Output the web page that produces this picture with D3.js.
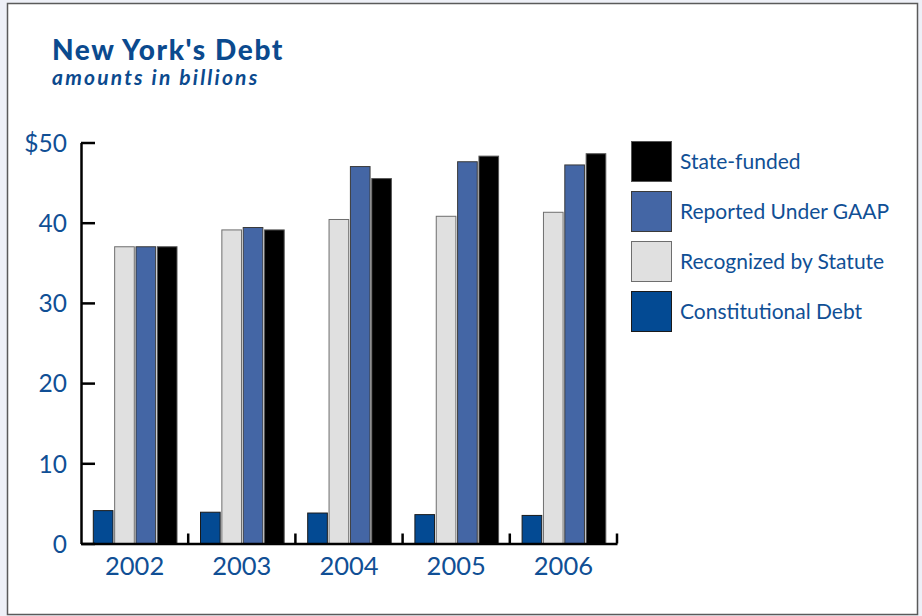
<!DOCTYPE html>
<html>
<head>
<meta charset="utf-8">
<script src="https://cdn.jsdelivr.net/npm/d3@7"></script>
<style>
  html, body { margin: 0; padding: 0; background: #eef0f7; }
  svg { display: block; font-family: Lato, "Open Sans", sans-serif; }
</style>
</head>
<body>
<svg id="chart" width="922" height="616"></svg>
<script>
// New York's debt, billions of dollars, fiscal years 2002-2006
const years = ["2002", "2003", "2004", "2005", "2006"];
const seriesNames = ["Constitutional Debt", "Recognized by Statute", "Reported Under GAAP", "State-funded"];
const constitutional = [4.1, 3.9, 3.8, 3.6, 3.5];
const statute = [37.0, 39.1, 40.4, 40.8, 41.3];
const gaap = [37.0, 39.4, 47.0, 47.6, 47.2];
const stateFunded = [37.0, 39.1, 45.5, 48.3, 48.6];
const yTicks = [0, 10, 20, 30, 40, 50];
const legendOrder = ["State-funded", "Reported Under GAAP", "Recognized by Statute", "Constitutional Debt"];

const seriesValues = [constitutional, statute, gaap, stateFunded];
const fills = ["#034a93", "#e0e0e0", "#4466a5", "#000000"];
const strokes = ["#1a1a1a", "#6e6e6e", "#3a3a3a", "#555555"];
const textBlue = "#104f95";
const titleBlue = "#0b4a8e";

const svg = d3.select("#chart");

// Framed panel
svg.append("rect")
  .attr("x", 7.5).attr("y", 3.5).attr("width", 910).attr("height", 611)
  .attr("fill", "#ffffff").attr("stroke", "#5a5a5a").attr("stroke-width", 1.5);

// Title block
svg.append("text")
  .attr("x", 52).attr("y", 60)
  .attr("fill", titleBlue)
  .style("font-family", "Lato, sans-serif")
  .style("font-size", "28px").style("font-weight", 900)
  .style("letter-spacing", "1.6px")
  .text("New York's Debt");
svg.append("text")
  .attr("x", 52).attr("y", 85)
  .attr("fill", titleBlue)
  .style("font-family", "Lato, sans-serif")
  .style("font-size", "21px").style("font-weight", 700)
  .style("font-style", "italic")
  .style("letter-spacing", "2.2px")
  .text("amounts in billions");

// Scales
const x0 = d3.scaleBand().domain(years).range([81, 617]).padding(0);
const x1 = d3.scaleBand().domain(seriesNames).range([12.3, 96]).paddingInner(0.08).paddingOuter(0);
const y = d3.scaleLinear().domain([0, 50]).range([543.5, 142.5]);

// Bars
const groups = svg.append("g").selectAll("g")
  .data(years)
  .join("g")
  .attr("transform", d => `translate(${x0(d)},0)`);

groups.selectAll("rect")
  .data((yr, i) => seriesNames.map((s, k) => ({ s, k, v: seriesValues[k][i] })))
  .join("rect")
  .attr("x", d => x1(d.s))
  .attr("width", x1.bandwidth())
  .attr("y", d => y(d.v))
  .attr("height", d => y(0) - y(d.v))
  .attr("fill", d => fills[d.k])
  .attr("stroke", d => strokes[d.k])
  .attr("stroke-width", 1);

// Y axis with inward ticks
const yAxis = d3.axisLeft(y)
  .tickValues(yTicks)
  .tickSizeInner(-14)
  .tickSizeOuter(0)
  .tickPadding(14)
  .tickFormat(d => d === 50 ? "$50" : String(d));

const gy = svg.append("g").attr("transform", "translate(81,0)").call(yAxis);
gy.select(".domain").attr("stroke", "#000").attr("stroke-width", 2.5);
gy.selectAll(".tick line").attr("stroke", "#000").attr("stroke-width", 2.5);
gy.selectAll(".tick text")
  .attr("fill", textBlue).attr("font-size", 24.5)
  .attr("font-family", "Lato, 'Open Sans', sans-serif")
  .attr("dy", "0.36em");

// X axis: baseline, year labels, separator ticks between groups
const xAxis = d3.axisBottom(x0).tickSize(0).tickPadding(0).tickSizeOuter(0);
const gx = svg.append("g").attr("transform", `translate(0,${y(0)})`).call(xAxis);
gx.select(".domain").attr("stroke", "#000").attr("stroke-width", 2.5);
gx.selectAll(".tick text")
  .attr("fill", textBlue).attr("font-size", 25.5)
  .attr("font-family", "Lato, 'Open Sans', sans-serif")
  .attr("dy", null).attr("y", 31);

svg.append("g").selectAll("line")
  .data(years)
  .join("line")
  .attr("x1", d => x0(d) + x0.step())
  .attr("x2", d => x0(d) + x0.step())
  .attr("y1", y(0))
  .attr("y2", y(0) - 10)
  .attr("stroke", "#000").attr("stroke-width", 2.5);

// Legend
const legend = svg.append("g").attr("transform", "translate(631,141)");
const li = legend.selectAll("g")
  .data(legendOrder)
  .join("g")
  .attr("transform", (d, i) => `translate(0,${i * 50})`);
li.append("rect")
  .attr("x", 0.5).attr("y", 0.5).attr("width", 40).attr("height", 40)
  .attr("fill", d => fills[seriesNames.indexOf(d)])
  .attr("stroke", d => strokes[seriesNames.indexOf(d)])
  .attr("stroke-width", 1);
li.append("text")
  .attr("x", 49).attr("y", 28)
  .attr("fill", textBlue).attr("font-size", 21)
  .text(d => d);
</script>
</body>
</html>
